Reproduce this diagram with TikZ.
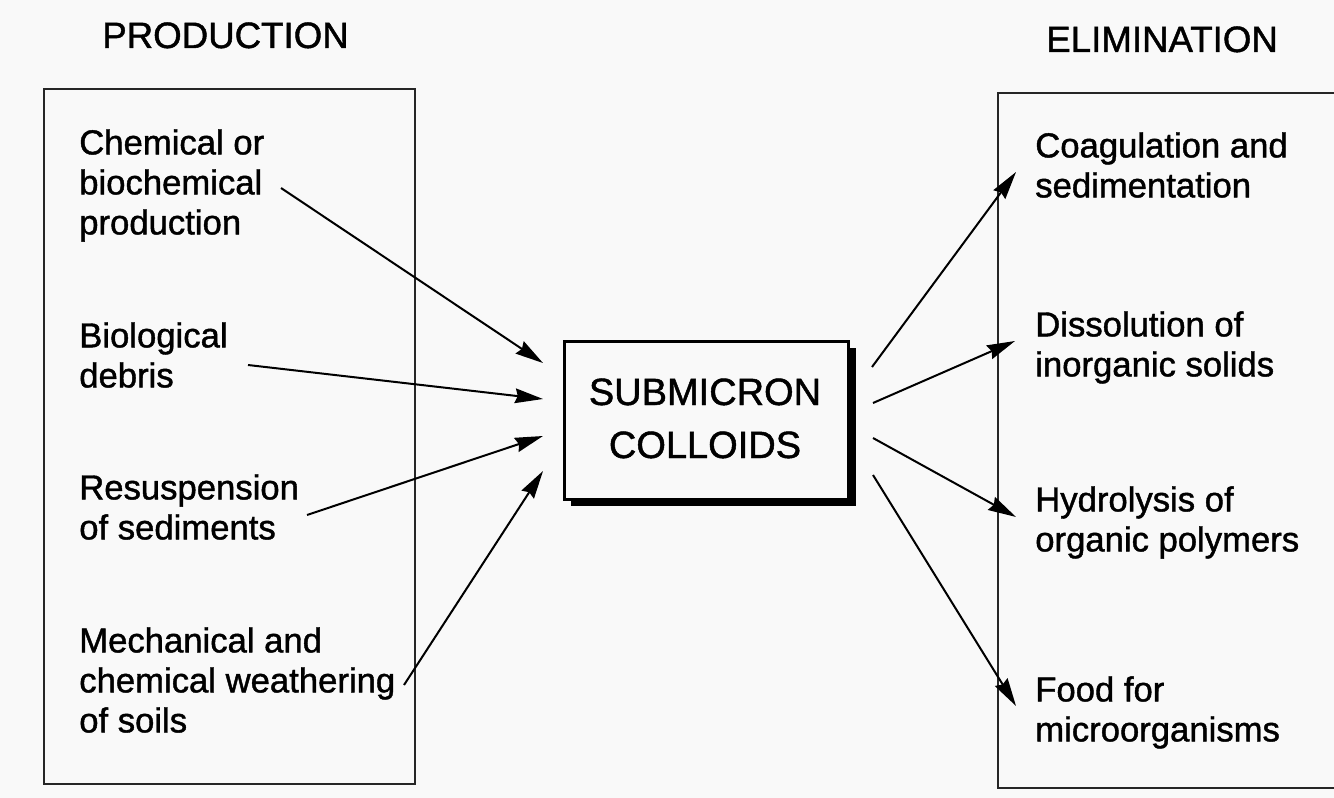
\documentclass[tikz,border=0pt]{standalone}
\usepackage{fontspec}
\setmainfont{Liberation Sans}[FakeBold=1.2]
\usetikzlibrary{arrows.meta}
\begin{document}
\begin{tikzpicture}[x=0.75pt,y=-0.75pt,
  lbl/.style={anchor=north west,inner sep=0pt,align=left,font=\fontsize{26}{30}\selectfont},
  ttl/.style={anchor=base west,inner sep=0pt,font=\fontsize{27.5}{32}\selectfont},
  panel/.style={draw=black!85,line width=1.4pt},
  arr/.style={line width=1.5pt,-{Stealth[length=21pt,width=11pt,inset=2pt]}}]
\fill[gray!5] (0,0) rectangle (1334,798);
\useasboundingbox (0,0) rectangle (1334,798);
% titles
\node[ttl] (tprod) at (102,48) {PRODUCTION};
\node[ttl] (telim) at (1046,52) {ELIMINATION};
% panels
\node[panel,minimum width=371*0.75pt,minimum height=695*0.75pt,inner sep=0pt,anchor=north west] (lbox) at (43,88) {};
\node[panel,minimum width=345*0.75pt,minimum height=695*0.75pt,inner sep=0pt,anchor=north west] (rbox) at (997,92) {};
% central box with shadow
\fill[black] (571,348) rectangle (856,506);
\node[draw=black,line width=2.2pt,fill=gray!5,minimum width=284*0.75pt,minimum height=158*0.75pt,inner sep=0pt,anchor=north west] (core) at (563,340) {};
\node[anchor=base,inner sep=0pt,font=\fontsize{28.5}{40}\selectfont] (sub) at (705,405) {SUBMICRON};
\node[anchor=base,inner sep=0pt,font=\fontsize{28.5}{40}\selectfont] (col) at (705,458) {COLLOIDS};
% left texts
\node[lbl] (chem) at (79,129) {Chemical or\\biochemical\\production};
\node[lbl] (bio) at (79,322) {Biological\\debris};
\node[lbl] (res) at (79,474) {Resuspension\\of sediments};
\node[lbl] (mech) at (79,627) {Mechanical and\\chemical weathering\\of soils};
% right texts
\node[lbl] (coag) at (1035,132) {Coagulation and\\sedimentation};
\node[lbl] (diss) at (1035,311) {Dissolution of\\inorganic solids};
\node[lbl] (hyd) at (1035,486) {Hydrolysis of\\organic polymers};
\node[lbl] (food) at (1035,676) {Food for\\microorganisms};
% connector ends
\coordinate (s1) at (281,188); \coordinate (e1) at (543,363);
\coordinate (s2) at (248,365); \coordinate (e2) at (543,399);
\coordinate (s3) at (307,515); \coordinate (e3) at (543,436);
\coordinate (s4) at (404,685); \coordinate (e4) at (543,471);
\coordinate (s5) at (872,367); \coordinate (e5) at (1016,172);
\coordinate (s6) at (873,403); \coordinate (e6) at (1015,341);
\coordinate (s7) at (873,438); \coordinate (e7) at (1016,517);
\coordinate (s8) at (873,475); \coordinate (e8) at (1016,706);
\draw[arr] (s1) -- (e1);
\draw[arr] (s2) -- (e2);
\draw[arr] (s3) -- (e3);
\draw[arr] (s4) -- (e4);
\draw[arr] (s5) -- (e5);
\draw[arr] (s6) -- (e6);
\draw[arr] (s7) -- (e7);
\draw[arr] (s8) -- (e8);
\end{tikzpicture}
\end{document}
